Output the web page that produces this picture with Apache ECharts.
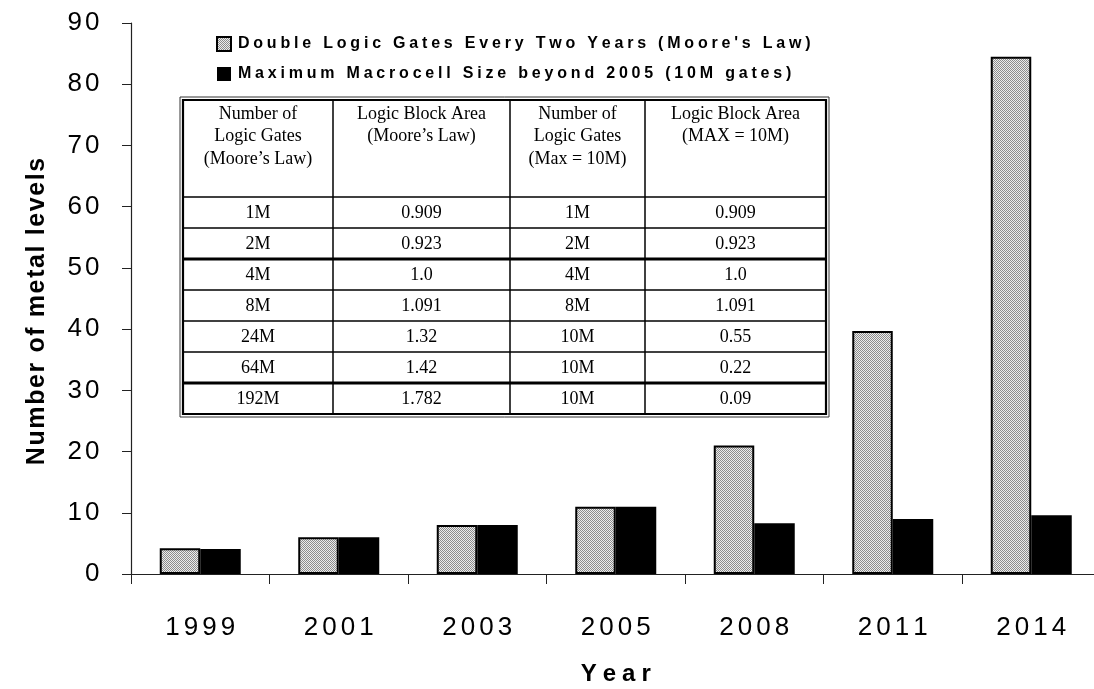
<!DOCTYPE html>
<html>
<head>
<meta charset="utf-8">
<script src="https://cdn.jsdelivr.net/npm/echarts@6/dist/echarts.min.js"></script>
<style>
  html, body { margin: 0; padding: 0; background: #fff; }
  #chart { width: 1094px; height: 689px; }
</style>
</head>
<body>
<div id="chart"></div>
<script>
// Chart data
const years = ['1999', '2001', '2003', '2005', '2008', '2011', '2014'];
const mooreLevels = [4.2, 6.0, 8.0, 11.0, 21.0, 39.7, 84.5];
const maxMacroLevels = [4.1, 6.0, 8.0, 11.0, 8.3, 9.0, 9.6];
const seriesNames = [
  "Double Logic Gates Every Two Years (Moore's Law)",
  'Maximum Macrocell Size beyond 2005 (10M gates)'
];
const yTicks = [0, 10, 20, 30, 40, 50, 60, 70, 80, 90];
const xTitle = 'Year';
const yTitle = 'Number of metal levels';

// Inset table
const tableHeaders = [
  'Number of\nLogic Gates\n(Moore\u2019s Law)',
  'Logic Block Area\n(Moore\u2019s Law)',
  'Number of\nLogic Gates\n(Max = 10M)',
  'Logic Block Area\n(MAX = 10M)'
];
const gatesMoore = ['1M', '2M', '4M', '8M', '24M', '64M', '192M'];
const areaMoore = ['0.909', '0.923', '1.0', '1.091', '1.32', '1.42', '1.782'];
const gatesMax = ['1M', '2M', '4M', '8M', '10M', '10M', '10M'];
const areaMax = ['0.909', '0.923', '1.0', '1.091', '0.55', '0.22', '0.09'];

// Dithered grey fill for the Moore's-law bars
function ditherPattern() {
  const c = document.createElement('canvas');
  c.width = 2; c.height = 2;
  const g = c.getContext('2d');
  g.fillStyle = '#ececec'; g.fillRect(0, 0, 2, 2);
  g.fillStyle = '#8c8c8c'; g.fillRect(0, 0, 1, 1); g.fillRect(1, 1, 1, 1);
  return c;
}
const greyFill = { image: ditherPattern(), repeat: 'repeat' };

// Wide-tracked text built from rich-text runs, one run per character
function spaced(str) {
  return str.split('').map(ch => ch === ' ' ? '{w| }' : '{c|' + ch + '}').join('');
}
function trackStyle(size, weight, pad) {
  const base = { fontFamily: 'Liberation Sans, Arial, sans-serif', fontSize: size, fontWeight: weight, color: '#000' };
  return {
    c: Object.assign({ padding: [0, pad, 0, pad] }, base),
    w: Object.assign({ padding: [0, pad, 0, pad] }, base)
  };
}

// Table layout
const tbl = { x: 183, y: 100, colX: [183, 333, 510, 645, 826], headerH: 97, rowH: 31 };
const thickAfterRow = [1, 5];
const serif = '"Liberation Serif", "Times New Roman", serif';

function buildTable() {
  const els = [];
  const cols = [gatesMoore, areaMoore, gatesMax, areaMax];
  const nRows = gatesMoore.length;
  const x0 = tbl.colX[0], x1 = tbl.colX[tbl.colX.length - 1];
  const y0 = tbl.y, y1 = tbl.y + tbl.headerH + nRows * tbl.rowH;
  els.push({ type: 'rect', shape: { x: x0, y: y0, width: x1 - x0, height: y1 - y0 },
    style: { fill: '#fff', stroke: '#000', lineWidth: 2.2 }, z: 10 });
  els.push({ type: 'rect', shape: { x: x0 - 3, y: y0 - 3, width: x1 - x0 + 6, height: y1 - y0 + 6 },
    style: { fill: 'none', stroke: '#333', lineWidth: 1 }, z: 10 });
  for (let i = 1; i < tbl.colX.length - 1; i++) {
    els.push({ type: 'line', shape: { x1: tbl.colX[i], y1: y0, x2: tbl.colX[i], y2: y1 },
      style: { stroke: '#000', lineWidth: 1.5 }, z: 11 });
  }
  for (let r = 0; r < nRows; r++) {
    const yy = y0 + tbl.headerH + r * tbl.rowH;
    const thick = thickAfterRow.indexOf(r - 1) >= 0;
    els.push({ type: 'line', shape: { x1: x0, y1: yy, x2: x1, y2: yy },
      style: { stroke: '#000', lineWidth: thick ? 3 : 1.5 }, z: 11 });
  }
  for (let c = 0; c < 4; c++) {
    const cx = (tbl.colX[c] + tbl.colX[c + 1]) / 2;
    els.push({ type: 'text', x: cx, y: y0 + 3, z: 12,
      style: { text: tableHeaders[c], font: '18px ' + serif, fill: '#000', align: 'center',
        verticalAlign: 'top', lineHeight: 22.5 } });
    for (let r = 0; r < nRows; r++) {
      const cy = y0 + tbl.headerH + r * tbl.rowH + tbl.rowH / 2 + 1;
      els.push({ type: 'text', x: cx, y: cy, z: 12,
        style: { text: cols[c][r], font: '18px ' + serif, fill: '#000', align: 'center',
          verticalAlign: 'middle' } });
    }
  }
  return els;
}

const chart = echarts.init(document.getElementById('chart'), null, { renderer: 'canvas' });
chart.setOption({
  backgroundColor: '#fff',
  animation: false,
  grid: { left: 131, top: 23, width: 969.5, height: 551, containLabel: false, outerBoundsMode: 'none' },
  legend: {
    orient: 'vertical', left: 216, top: 36, itemGap: 14, padding: 0,
    itemWidth: 14, itemHeight: 14, icon: 'rect',
    data: seriesNames,
    formatter: name => spaced(name),
    textStyle: { rich: trackStyle(16, 'bold', 1.9) }
  },
  xAxis: {
    type: 'category', data: years, boundaryGap: true,
    name: spaced(xTitle), nameLocation: 'middle', nameGap: 88,
    nameTextStyle: { rich: trackStyle(24, 'bold', 3) },
    axisLine: { lineStyle: { color: '#222', width: 1.2 } },
    axisTick: { show: true, alignWithLabel: false, inside: false, length: 10, lineStyle: { color: '#222' } },
    axisLabel: { margin: 41, formatter: v => spaced(v), rich: trackStyle(26, 'normal', 2) }
  },
  yAxis: {
    type: 'value', min: yTicks[0], max: yTicks[yTicks.length - 1], interval: 10,
    name: spaced(yTitle), nameLocation: 'middle', nameGap: 81, nameRotate: 90,
    nameTextStyle: { padding: [0, 26, 0, 0], rich: trackStyle(25, 'bold', 0.8) },
    axisLine: { show: true, lineStyle: { color: '#222', width: 1.2 } },
    axisTick: { show: true, length: 9, lineStyle: { color: '#222' } },
    splitLine: { show: false },
    axisLabel: { margin: 30, formatter: v => spaced(String(v)), rich: trackStyle(26, 'normal', 1.5) }
  },
  series: [
    {
      name: seriesNames[0], type: 'bar', data: mooreLevels,
      barWidth: 40.5, barGap: '0%',
      itemStyle: { color: greyFill, borderColor: '#000', borderWidth: 2 }
    },
    {
      name: seriesNames[1], type: 'bar', data: maxMacroLevels,
      barWidth: 40.5, barGap: '0%',
      itemStyle: { color: '#000', borderColor: '#000', borderWidth: 0 }
    }
  ],
  graphic: buildTable()
});
</script>
</body>
</html>
